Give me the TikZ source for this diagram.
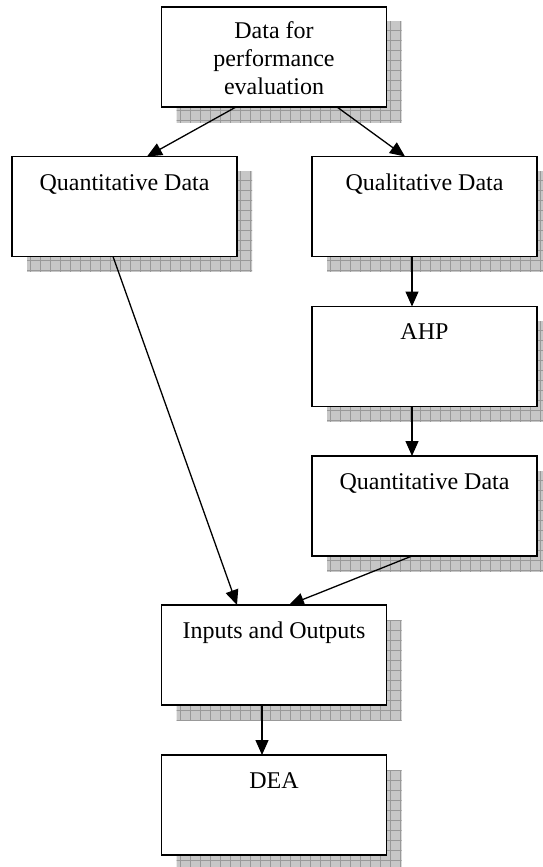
\documentclass[tikz,border=0pt]{standalone}
\usepackage{fontspec}
\setmainfont{Liberation Serif}
\usetikzlibrary{arrows.meta}
\pgfdeclarelayer{shadowlayer}
\pgfsetlayers{shadowlayer,main}
\begin{document}
\begin{tikzpicture}[x=1pt,y=-1pt,
  box/.style={draw=black, fill=white, line width=1.5pt, minimum width=225pt,
    minimum height=100pt, inner sep=0pt, outer sep=0pt},
  txt/.style={font=\fontsize{24}{27.5}\selectfont, inner sep=0pt, anchor=base, align=center},
  arr/.style={line width=1.3pt, -{Triangle[length=15pt,width=13pt]}},
  shadowfill/.style={fill=black!22},
  shadowgrid/.style={draw=black!40, line width=0.6pt}]
\useasboundingbox (0,0) rectangle (543,867);
\clip (0,0) rectangle (543,867);

% boxes
\node[box] (top)    at (274,57)      {};
\node[box] (quant1) at (124.5,206.5) {};
\node[box] (qual)   at (424.5,206.5) {};
\node[box] (ahp)    at (424.5,356.5) {};
\node[box] (quant2) at (424.5,506)   {};
\node[box] (io)     at (274,655)     {};
\node[box] (dea)    at (274,805)     {};

% labels, set near the top of each box (base = last line's baseline)
\node[txt] (topT)    at ([yshift=-87pt]top.north)    {Data for\\performance\\evaluation};
\node[txt] (quant1T) at ([yshift=-34pt]quant1.north) {Quantitative Data};
\node[txt] (qualT)   at ([yshift=-34pt]qual.north)   {Qualitative Data};
\node[txt] (ahpT)    at ([yshift=-33pt]ahp.north)    {AHP};
\node[txt] (quant2T) at ([yshift=-33pt]quant2.north) {Quantitative Data};
\node[txt] (ioT)     at ([yshift=-33pt]io.north)     {Inputs and Outputs};
\node[txt] (deaT)    at ([yshift=-33pt]dea.north)    {DEA};

% hatched drop shadows
\begin{pgfonlayer}{shadowlayer}
\foreach \b in {top,quant1,qual,ahp,quant2,io,dea}{
  \begin{scope}
    \clip ([shift={(15,15)}]\b.south west) rectangle ([shift={(15,15)}]\b.north east);
    \fill[shadowfill] (0,0) rectangle (560,880);
    \foreach \gx in {0,10,...,560} \draw[shadowgrid] (\gx,0) -- (\gx,880);
    \foreach \gy in {0,10,...,880} \draw[shadowgrid] (0,\gy) -- (560,\gy);
  \end{scope}
}
\end{pgfonlayer}

% connectors
\draw[arr] ([xshift=-38pt]top.south) -- ([xshift=22.5pt]quant1.north);
\draw[arr] ([xshift=63pt]top.south) -- ([xshift=-19.5pt]qual.north);
\draw[arr] ([xshift=-12.5pt]qual.south) -- ([xshift=-12.5pt]ahp.north);
\draw[arr] ([xshift=-12.5pt]ahp.south) -- ([xshift=-12.5pt]quant2.north);
\draw[arr] ([xshift=-11.5pt]quant1.south) -- ([xshift=-37pt]io.north);
\draw[arr] ([xshift=-12.5pt]quant2.south) -- ([xshift=15pt]io.north);
\draw[arr] ([xshift=-12pt]io.south) -- ([xshift=-12pt]dea.north);
\end{tikzpicture}
\end{document}
